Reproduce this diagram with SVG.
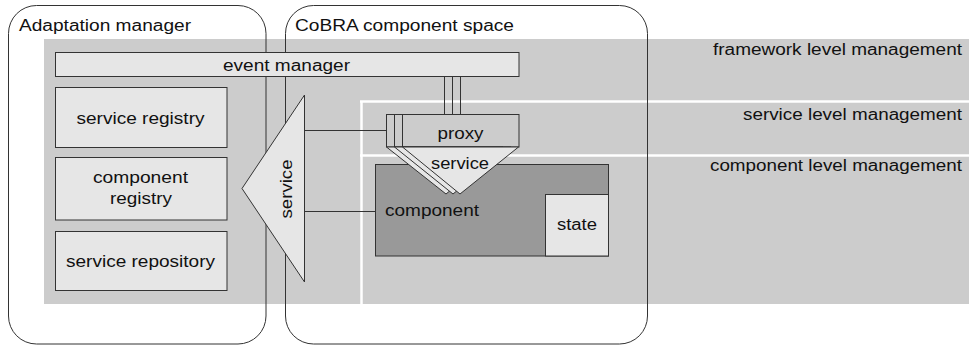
<svg xmlns="http://www.w3.org/2000/svg" width="969" height="349" viewBox="0 0 969 349">
<style>
  text { font-family: "Liberation Sans", Arial, sans-serif; font-size: 16px; fill: #111; }
  .ln { stroke: #333; stroke-width: 1; fill: none; }
  .light { fill: #e6e6e6; stroke: #333; stroke-width: 1; }
  .mid { fill: #cccccc; stroke: #333; stroke-width: 1; }
  .dark { fill: #999999; stroke: #333; stroke-width: 1; }
  .wl { stroke: #ffffff; stroke-width: 2.5; }
  .c { text-anchor: middle; }
  .r { text-anchor: end; }
</style>
<rect width="969" height="349" fill="#ffffff"/>
<g id="levels">
  <rect x="44" y="39" width="925" height="265" fill="#cccccc"/>
  <line class="wl" x1="360" y1="101.5" x2="969" y2="101.5"/>
  <line class="wl" x1="360" y1="155.5" x2="969" y2="155.5"/>
  <line class="wl" x1="361.5" y1="101" x2="361.5" y2="304"/>
  <text class="r" x="962" y="54.5" textLength="249" lengthAdjust="spacingAndGlyphs">framework level management</text>
  <text class="r" x="962" y="120" textLength="219" lengthAdjust="spacingAndGlyphs">service level management</text>
  <text class="r" x="962" y="170.5" textLength="252" lengthAdjust="spacingAndGlyphs">component level management</text>
</g>
<g id="adaptation-manager">
  <rect class="ln" x="8.5" y="5.5" width="257.5" height="338.5" rx="28" ry="28"/>
  <text x="19" y="31" textLength="172" lengthAdjust="spacingAndGlyphs">Adaptation manager</text>
</g>
<g id="cobra-space">
  <rect class="ln" x="285.5" y="5.5" width="362" height="338.5" rx="28" ry="28"/>
  <text x="295" y="31" textLength="219" lengthAdjust="spacingAndGlyphs">CoBRA component space</text>
</g>
<g id="connectors">
  <line class="ln" x1="304" y1="130.5" x2="386" y2="130.5"/>
  <line class="ln" x1="304" y1="211.5" x2="375" y2="211.5"/>
  <line class="ln" x1="444.5" y1="76" x2="444.5" y2="114"/>
  <line class="ln" x1="452.5" y1="76" x2="452.5" y2="114"/>
  <line class="ln" x1="460.5" y1="76" x2="460.5" y2="114"/>
</g>
<g id="event-manager">
  <rect class="light" x="55.5" y="52.5" width="463.5" height="24"/>
  <text class="c" x="286.5" y="71" textLength="127" lengthAdjust="spacingAndGlyphs">event manager</text>
</g>
<g id="service-registry">
  <rect class="light" x="55.5" y="87.5" width="171.5" height="60"/>
  <text class="c" x="140.5" y="124" textLength="128" lengthAdjust="spacingAndGlyphs">service registry</text>
</g>
<g id="component-registry">
  <rect class="light" x="55.5" y="157.5" width="171.5" height="62.5"/>
  <text class="c" x="140.5" y="183" textLength="95" lengthAdjust="spacingAndGlyphs">component</text>
  <text class="c" x="141" y="203.5" textLength="62" lengthAdjust="spacingAndGlyphs">registry</text>
</g>
<g id="service-repository">
  <rect class="light" x="55.5" y="231.5" width="171.5" height="59"/>
  <text class="c" x="140.5" y="267" textLength="149" lengthAdjust="spacingAndGlyphs">service repository</text>
</g>
<g id="service-interface">
  <polygon class="light" points="304.5,95 242,188.5 304.5,282"/>
  <text class="c" transform="translate(291.5,189) rotate(-90)" textLength="59" lengthAdjust="spacingAndGlyphs">service</text>
</g>
<g id="component">
  <rect class="dark" x="375.5" y="164.5" width="233" height="91.5"/>
  <text x="385" y="215.5" textLength="94" lengthAdjust="spacingAndGlyphs">component</text>
</g>
<g id="state">
  <rect class="light" x="545.5" y="194.5" width="63" height="61.5"/>
  <text class="c" x="577" y="230" textLength="40" lengthAdjust="spacingAndGlyphs">state</text>
</g>
<g id="proxy">
  <rect class="mid" x="386.5" y="114.5" width="117" height="32.5"/>
  <rect class="mid" x="394.5" y="114.5" width="117" height="32.5"/>
  <rect class="mid" x="402.5" y="114.5" width="116.5" height="32.5"/>
  <text class="c" x="460.5" y="138.5" textLength="46" lengthAdjust="spacingAndGlyphs">proxy</text>
</g>
<g id="proxy-service">
  <polygon class="light" points="386.5,147 503,147 446,194"/>
  <polygon class="light" points="394.5,147 511,147 453,194"/>
  <polygon class="light" points="402.5,147 518.5,147 460,194"/>
  <text class="c" x="460" y="168.5" textLength="58" lengthAdjust="spacingAndGlyphs">service</text>
</g>
</svg>
